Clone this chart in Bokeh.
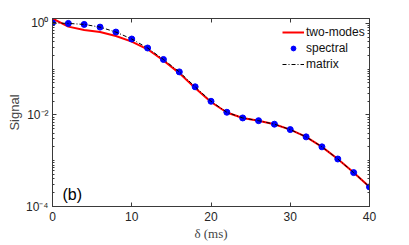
from bokeh.plotting import figure
from bokeh.models import (FixedTicker, LinearAxis, LogAxis, Label, Legend, LegendItem,
                          Range1d)
from bokeh.embed import file_html
from bokeh.resources import INLINE

# ---- data ----
delta_ms = [0, 2, 4, 6, 8, 10, 12, 14, 16, 18, 20, 22, 24, 26, 28, 30, 32, 34, 36, 38, 40]
spectral = [1.03, 1.0, 0.95, 0.83, 0.647, 0.456, 0.29, 0.163, 0.0873, 0.0412, 0.0199,
            0.01145, 0.0086, 0.0075, 0.00628, 0.00479, 0.00332, 0.00201, 0.00109,
            0.00055, 0.000268]
matrix = [1.03, 1.0, 0.95, 0.83, 0.647, 0.456, 0.29, 0.163, 0.0873, 0.0412, 0.0199,
          0.01145, 0.0086, 0.0075, 0.00628, 0.00479, 0.00332, 0.00201, 0.00109,
          0.00055, 0.000268]
two_modes = [1.28, 0.85, 0.715, 0.647, 0.53, 0.40, 0.272, 0.155, 0.082, 0.039, 0.0192,
             0.0113, 0.0086, 0.0075, 0.00628, 0.00479, 0.00332, 0.00201, 0.00109,
             0.00055, 0.000268]
x_ticks = [0, 10, 20, 30, 40]
y_ticks = [1e-4, 1e-2, 1.0]
y_tick_labels = {1.0: "10⁰", 0.01: "10⁻²", 0.0001: "10⁻⁴"}

AX = "#3a3a3a"
FONT = "Liberation Sans"

p = figure(width=405, height=243, output_backend="svg", toolbar_location=None,
           y_axis_type="log", x_range=Range1d(0, 40), y_range=Range1d(1e-4, 1.28),
           min_border_left=52, min_border_right=36, min_border_top=18, min_border_bottom=36)
p.grid.visible = False
p.outline_line_color = AX
p.background_fill_color = "white"

minor_y = [k * 10.0 ** e for e in range(-4, 1) for k in range(1, 10)]

def style_axis(ax, show_labels):
    ax.axis_line_color = AX
    ax.major_tick_line_color = AX
    ax.minor_tick_line_color = AX
    ax.major_tick_in = 4
    ax.major_tick_out = 0
    ax.minor_tick_in = 2
    ax.minor_tick_out = 0
    ax.major_label_text_font = FONT
    ax.major_label_text_font_size = "12px"
    ax.major_label_text_color = "#262626"
    ax.axis_label_text_font_style = "normal"
    if not show_labels:
        ax.major_label_text_alpha = 0
        ax.major_label_text_font_size = "1px"
        ax.major_label_standoff = 0

# bottom x axis
xa = p.xaxis[0]
xa.ticker = FixedTicker(ticks=x_ticks)
style_axis(xa, True)
xa.major_label_standoff = 5
xa.axis_label = "δ (ms)"
xa.axis_label_text_font = "Liberation Serif"
xa.axis_label_text_font_size = "13px"
xa.axis_label_standoff = 2

# left y axis
ya = p.yaxis[0]
ya.ticker = FixedTicker(ticks=y_ticks, minor_ticks=minor_y)
style_axis(ya, True)
ya.major_label_overrides = y_tick_labels
ya.major_label_standoff = 4
ya.axis_label = "Signal"
ya.axis_label_text_font = FONT
ya.axis_label_text_font_size = "13px"
ya.axis_label_standoff = 1

# top and right axes for box ticks
top = LinearAxis(ticker=FixedTicker(ticks=x_ticks))
style_axis(top, False)
p.add_layout(top, "above")
right = LogAxis(ticker=FixedTicker(ticks=y_ticks, minor_ticks=minor_y))
style_axis(right, False)
p.add_layout(right, "right")

r_two = p.line(delta_ms, two_modes, line_color="#ff0000", line_width=2)
r_spec = p.scatter(delta_ms, spectral, marker="circle", size=6, fill_color="#0000ff",
                   line_color="#0000ff")
r_mat = p.line(delta_ms, matrix, line_color="black", line_width=1, line_dash="4 2 1 2")

legend = Legend(items=[LegendItem(label="two-modes", renderers=[r_two]),
                       LegendItem(label="spectral", renderers=[r_spec]),
                       LegendItem(label="matrix", renderers=[r_mat])],
                location=(228, 133))
legend.background_fill_alpha = 0
legend.border_line_alpha = 0
legend.label_text_font = FONT
legend.label_text_font_size = "12px"
legend.label_text_color = "#111111"
legend.glyph_width = 22
legend.glyph_height = 12
legend.label_standoff = 2
legend.spacing = 2
legend.padding = 2
legend.margin = 0
p.add_layout(legend)

lab = Label(x=10, y=4, x_units="screen", y_units="screen", text="(b)",
            text_font=FONT, text_font_size="16px", text_color="black")
p.add_layout(lab)

open("out.html", "w").write(file_html(p, INLINE))
